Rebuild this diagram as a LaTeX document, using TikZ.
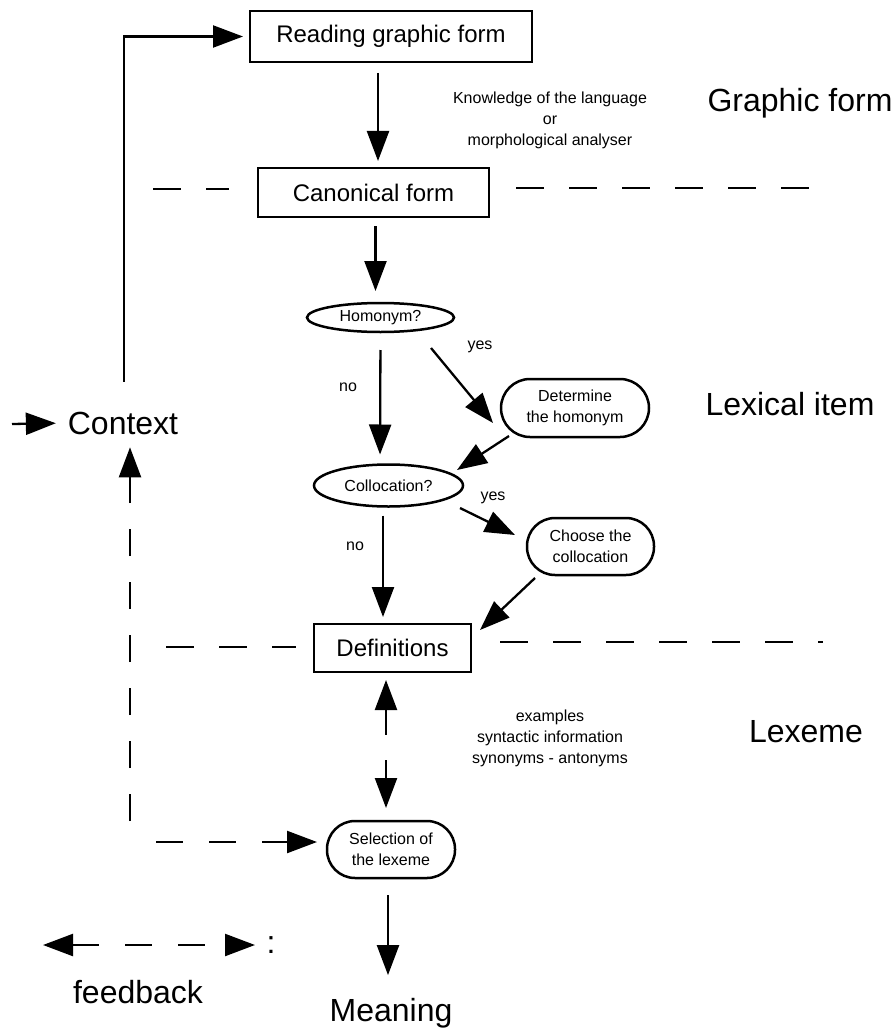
\documentclass[tikz,border=0pt]{standalone}
\usepackage{fontspec}
\setmainfont{Liberation Sans}
\usetikzlibrary{arrows.meta,shapes.geometric}
\begin{document}
\begin{tikzpicture}[x=1pt,y=-1pt,
  every node/.style={inner sep=0pt, outer sep=0pt},
  boxnode/.style={draw, line width=2.5pt, minimum width=#1, font=\fontsize{24}{28}\selectfont},
  ovalnode/.style={draw, ellipse, line width=2.5pt, font=\fontsize{16}{20}\selectfont},
  pillnode/.style={draw, rectangle, line width=2.5pt, rounded corners=27pt, align=center,
                   font=\fontsize{16}{21}\selectfont},
  small/.style={font=\fontsize{16}{21}\selectfont, align=center},
  big/.style={font=\fontsize{32}{38}\selectfont},
  arr/.style={-{Triangle[length=30pt,width=22pt]}, line width=2.3pt},
  darr/.style={{Triangle[length=30pt,width=22pt]}-{Triangle[length=30pt,width=22pt]}, line width=2.3pt},
  sep/.style={line width=2.3pt, dash pattern=on 28pt off 25pt},
  fbline/.style={line width=2.3pt, dash pattern=on 27pt off 26pt}
]
\useasboundingbox[fill=white] (0,0) rectangle (895,1030);

% nodes
\node[boxnode=282pt, minimum height=51pt] (rd) at (391,36.5) {Reading graphic form};
\node[boxnode=231pt, minimum height=49pt] (cf) at (373.5,192.5) {Canonical form};
\node[ovalnode, minimum width=147pt, minimum height=29pt] (hom) at (380.5,317.5) {Homonym?};
\node[pillnode, minimum width=148pt, minimum height=58pt, rounded corners=29pt] (det) at (575,408) {Determine\\the homonym};
\node[ovalnode, minimum width=149pt, minimum height=42pt] (col) at (388.5,485.5) {Collocation?};
\node[pillnode, minimum width=127pt, minimum height=57pt, rounded corners=28pt] (ch) at (590.5,546.5) {Choose the\\collocation};
\node[boxnode=157pt, minimum height=48pt] (def) at (392.5,648) {Definitions};
\node[pillnode, minimum width=128pt, minimum height=57pt, rounded corners=28pt] (sel) at (391,849.5) {Selection of\\the lexeme};
\node[big] (ctx) at (123,423) {Context};
\node[big] (mean) at (391,1013) {Meaning};

% side labels
\node[small] (know) at (550,120) {Knowledge of the language\\or\\morphological analyser};
\node[small] (ex) at (550,738) {examples\\syntactic information\\synonyms - antonyms};
\node[big] (gf) at (800,103) {Graphic form};
\node[big] (li) at (790,404) {Lexical item};
\node[big] (lx) at (806,732) {Lexeme};
\node[small] (yes1) at (480,347) {yes};
\node[small] (no1) at (348,387) {no};
\node[small] (yes2) at (493,498) {yes};
\node[small] (no2) at (355,546) {no};

% separators
\draw[sep] (153,189) -- (229,189);
\draw[sep] (516,188) -- (811,188);
\draw[sep] (166,647) -- (296,647);
\draw[sep] (500,642) -- (823,642);

% main flow
\draw[arr, shorten <=11pt, shorten >=7pt] ([xshift=-13pt]rd.south) -- ([xshift=4.5pt]cf.north);
\draw[arr, shorten <=9pt, shorten >=12pt] ([xshift=2pt]cf.south) -- ([xshift=-5pt]hom.north);
\draw[arr, shorten <=18pt, shorten >=10pt] (hom.south) -- ([xshift=-8.5pt]col.north);
\draw[arr] ([xshift=50.5pt,yshift=-30.5pt]hom.center) -- ([xshift=-82pt,yshift=-15pt]det.center);
\draw[arr] ([xshift=-66pt,yshift=-28pt]det.center) -- ([xshift=68.5pt,yshift=15.5pt]col.center);
\draw[arr] ([xshift=71.5pt,yshift=-22.5pt]col.center) -- ([xshift=-75.5pt,yshift=11.5pt]ch.center);
\draw[arr, shorten <=9pt, shorten >=7pt] ([xshift=-5.5pt]col.south) -- ([xshift=-9.5pt]def.north);
\draw[arr] ([xshift=-55.5pt,yshift=-31.5pt]ch.center) -- ([xshift=87.5pt,yshift=18pt]def.center);
\draw[darr, dash pattern=on 26pt off 25pt on 40pt, shorten <=8pt, shorten >=13pt] ([xshift=-6.5pt]def.south) -- ([xshift=-5pt]sel.north);
\draw[arr, shorten <=17pt, shorten >=23pt] ([xshift=-3pt]sel.south) -- ([xshift=-3pt]mean.north);

% context feedback
\draw[arr, shorten <=30pt, shorten >=7pt] ([xshift=1pt]ctx.north) |- (rd.west);
\coordinate (inl) at (12,424);
\draw[arr, shorten >=12pt] (inl) -- (ctx.west);
\coordinate (fb) at (130,842);
\draw[arr, fbline, dash phase=32pt, shorten >=13pt] (fb) -- (fb |- ctx.south);
\draw[arr, fbline, dash phase=27pt, shorten >=10pt] (fb) -- (fb -| sel.west);

% legend
\coordinate (lgl) at (43,945);
\coordinate (lgr) at (255,945);
\draw[darr, fbline] (lgl) -- (lgr);
\node[big] (colon) at (271,945) {:};
\node[big] (fbk) at (138,992) {feedback};
\end{tikzpicture}
\end{document}
